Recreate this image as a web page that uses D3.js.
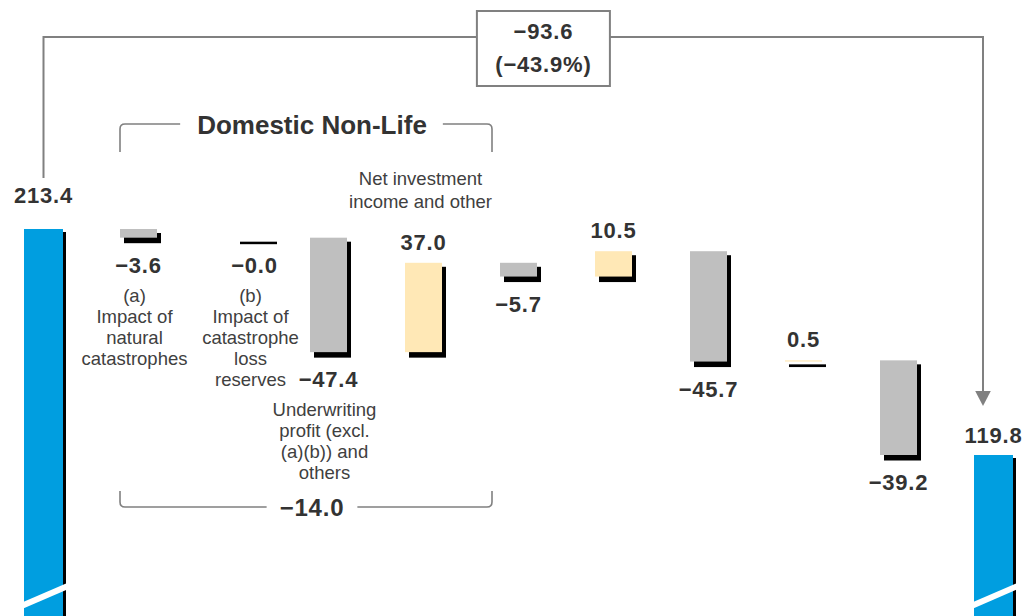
<!DOCTYPE html>
<html><head><meta charset="utf-8">
<script src="https://cdn.jsdelivr.net/npm/d3@7"></script>
<style>
html,body{margin:0;padding:0;background:#fff;}
svg{display:block;font-family:"Liberation Sans",Arial,Helvetica,sans-serif;}
</style></head><body>
<svg id="chart" width="1034" height="616"></svg>
<script>
// ---- data ----
const categories = ["prev","natcat","catres","uw","inv","item5","item6","item7","item8","item9","curr"];
const values = [213.4, -3.6, -0.0, -47.4, 37.0, -5.7, 10.5, -45.7, 0.5, -39.2, 119.8];
const isTotal = [true, false, false, false, false, false, false, false, false, false, true];
const categoryLabels = [
  [],
  ["(a)", "Impact of", "natural", "catastrophes"],
  ["(b)", "Impact of", "catastrophe", "loss", "reserves"],
  ["Underwriting", "profit (excl.", "(a)(b)) and", "others"],
  ["Net investment", "income and other"],
  [], [], [], [], [], []
];
const groupTitle = "Domestic Non-Life";
const groupMembers = ["natcat", "catres", "uw", "inv"];

// ---- layout ----
const W = 1034, H = 616;
const C = {blue: "#009EE0", grey: "#BFBFBF", cream: "#FFE8B6", shadow: "#000", line: "#808080", text: "#333", label: "#404040"};
const fmt1 = d3.format(".1f");
const isNeg = v => v < 0 || Object.is(v, -0);
const fmt = v => (isNeg(v) ? "\u2212" : "") + fmt1(Math.abs(v));
const svg = d3.select("#chart");

const xp = d3.scalePoint().domain(categories).range([43.5, 993.5]);
const layoutNudge = {catres: 21};           // visual spacing tweak of the reference layout
const x = c => xp(c) + (layoutNudge[c] || 0);
const y = d3.scaleLinear().domain([100, 220]).range([502.81, 213.06]);

// waterfall computation
let running = 0;
const bars = categories.map((c, i) => {
  const v = values[i];
  let lo, hi;
  if (isTotal[i]) { running = v; lo = null; hi = v; }
  else { const s = running; running = s + v; lo = Math.min(s, running); hi = Math.max(s, running); }
  return {c, i, v, lo, hi, total: isTotal[i]};
});

const g = svg.append("g");
bars.forEach(b => {
  const cx = x(b.c);
  if (b.total) {
    const bw = 39, top = y(b.hi);
    g.append("rect").attr("x", cx - bw/2 + 3).attr("y", top + 3).attr("width", bw).attr("height", H - top).attr("fill", C.shadow);
    g.append("rect").attr("x", cx - bw/2).attr("y", top).attr("width", bw).attr("height", H - top).attr("fill", C.blue);
    // break mark
    const xl = cx - bw/2 - 2, xr = cx + bw/2 + 6;
    const slope = 17/39, y0 = H - 11;
    g.append("line").attr("x1", xl).attr("y1", y0 + 2*slope).attr("x2", xr).attr("y2", y0 - (xr - cx + bw/2)*slope)
      .attr("stroke", "#fff").attr("stroke-width", 6);
  } else {
    const bw = 37, top = y(b.hi), h = y(b.lo) - y(b.hi);
    g.append("rect").attr("x", cx - bw/2 + 4).attr("y", top + 4).attr("width", bw).attr("height", Math.max(h + 1.5, 2.5)).attr("fill", C.shadow);
    g.append("rect").attr("x", cx - bw/2).attr("y", top).attr("width", bw).attr("height", Math.max(h, 0)).attr("fill", isNeg(b.v) ? C.grey : C.cream);
  }
});

// value labels + category labels
const valStyle = s => s.attr("font-size", 22).attr("font-weight", "bold").attr("fill", C.text).attr("letter-spacing", "0.8px").attr("text-anchor", "middle");
bars.forEach(b => {
  const cx = x(b.c);
  let base;
  const neg = isNeg(b.v);
  if (b.total) base = y(b.hi) - (b.i === 0 ? 26 : 12);
  else if (neg) base = y(b.lo) + 35;
  else base = y(b.hi) - 13;
  valStyle(svg.append("text")).attr("x", cx).attr("y", base).text(fmt(b.v));
  const lines = categoryLabels[b.i];
  if (lines.length) {
    const t = svg.append("text").attr("text-anchor", "middle").attr("font-size", 18.5).attr("fill", C.label);
    if (neg) {
      lines.forEach((l, k) => t.append("tspan").attr("x", cx - 4).attr("y", base + 29 + k*21).text(l));
    } else {
      const n = lines.length;
      lines.forEach((l, k) => t.append("tspan").attr("x", cx - 3).attr("y", base - 42 - (n - 1 - k)*23).text(l));
    }
  }
});

// ---- overall change connector ----
const first = bars[0], last = bars[bars.length - 1];
const diff = last.v - first.v, pct = diff / first.v;
const lineY = 37, xa = x(first.c), xb = x(last.c) - 10.5;
const boxW = 133, boxH = 75, boxCx = 543.4, boxTop = 11;
const conn = svg.append("g").attr("fill", "none").attr("stroke", C.line).attr("stroke-width", 2);
conn.append("path").attr("d", `M${xa},${y(first.hi) - 51}V${lineY}H${boxCx - boxW/2}`);
conn.append("path").attr("d", `M${boxCx + boxW/2},${lineY}H${xb}V${y(last.hi) - 62}`);
svg.append("path").attr("d", `M${xb - 7.8},${y(last.hi) - 64}L${xb + 7.8},${y(last.hi) - 64}L${xb},${y(last.hi) - 49}Z`).attr("fill", C.line);
svg.append("rect").attr("x", boxCx - boxW/2).attr("y", boxTop).attr("width", boxW).attr("height", boxH)
  .attr("fill", "#fff").attr("stroke", C.line).attr("stroke-width", 2);
valStyle(svg.append("text")).attr("x", boxCx).attr("y", 39).text(fmt(diff));
valStyle(svg.append("text")).attr("x", boxCx).attr("y", 72).text("(" + fmt(pct * 100) + "%)");

// ---- Domestic Non-Life brackets ----
const gl = x(groupMembers[0]) - 18.5, gr = x(groupMembers[groupMembers.length - 1]) + 68.5;
const gmid = (gl + gr) / 2 + 6;
const groupSum = d3.sum(groupMembers, m => values[categories.indexOf(m)]);
const title = svg.append("text").attr("x", gmid).attr("y", 134).attr("text-anchor", "middle")
  .attr("font-size", 26).attr("font-weight", "bold").attr("fill", C.text).text(groupTitle);
const sumT = valStyle(svg.append("text")).attr("font-size", 24).attr("x", gmid).attr("y", 516).text(fmt(groupSum));
const tw = title.node().getComputedTextLength(), sw = sumT.node().getComputedTextLength();
const br = svg.append("g").attr("fill", "none").attr("stroke", C.line).attr("stroke-width", 1.6);
const r = 5, yt = 124, yb = 507;
br.append("path").attr("d", `M${gl},152V${yt + r}Q${gl},${yt} ${gl + r},${yt}H${gmid - tw/2 - 17}M${gmid + tw/2 + 16},${yt}H${gr - r}Q${gr},${yt} ${gr},${yt + r}V152`);
br.append("path").attr("d", `M${gl},491V${yb - r}Q${gl},${yb} ${gl + r},${yb}H${gmid - sw/2 - 13}M${gmid + sw/2 + 13},${yb}H${gr - r}Q${gr},${yb} ${gr},${yb - r}V491`);
</script>
</body></html>
